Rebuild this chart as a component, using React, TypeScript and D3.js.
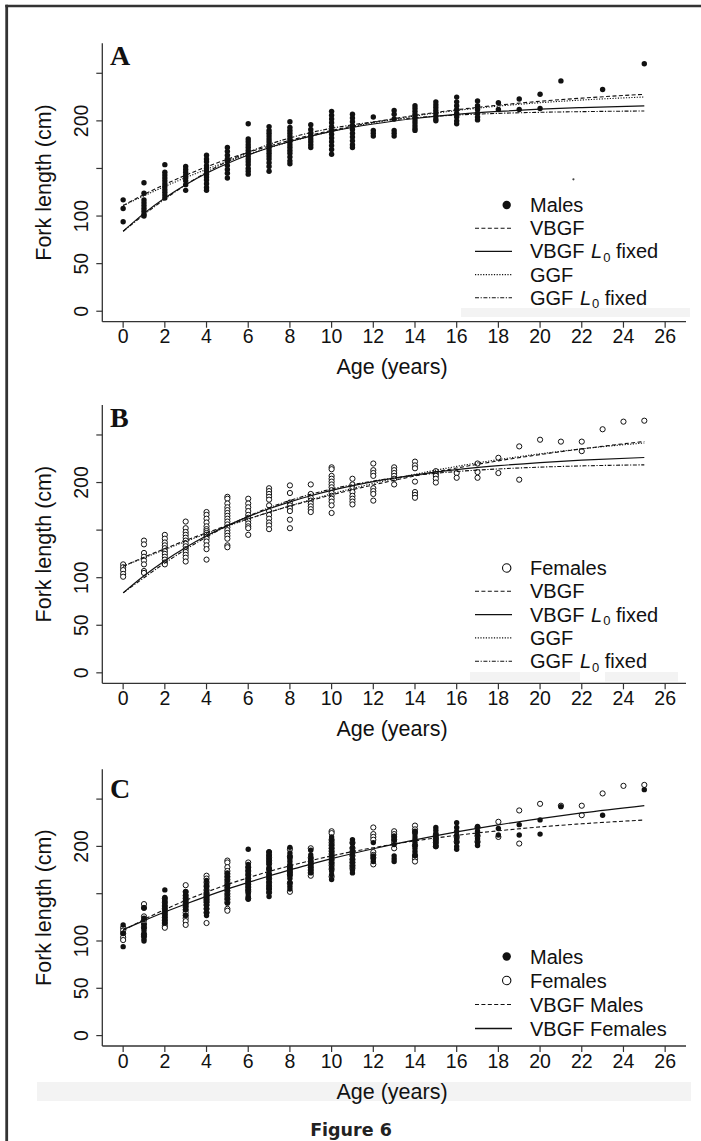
import React from 'react';
import * as d3 from 'd3';

// ---------- data ----------
const maleAges = [0, 1, 2, 3, 4, 5, 6, 7, 8, 9, 10, 11, 12, 13, 14, 15, 16, 17, 18, 19, 20, 21, 23, 25];
const maleLengths = [
  [117, 108, 94],
  [135, 124, 117, 114, 111, 108, 105, 102, 100],
  [154, 146, 143, 140, 137, 134, 131, 128, 125, 122, 119],
  [152, 149, 146, 143, 140, 137, 133, 127],
  [164, 160, 157, 153, 150, 147, 144, 141, 138, 134, 130, 127],
  [172, 168, 164, 160, 157, 153, 149, 145, 140],
  [197, 181, 178, 175, 172, 169, 166, 163, 160, 157, 154, 150, 147, 144],
  [194, 190, 187, 184, 181, 178, 175, 172, 169, 166, 163, 160, 156, 152, 147],
  [199, 193, 190, 187, 184, 181, 178, 175, 172, 169, 166, 162, 158, 155],
  [196, 191, 187, 184, 181, 178, 175, 172],
  [210, 206, 202, 198, 194, 190, 186, 182, 178, 174, 170, 165],
  [207, 203, 199, 195, 191, 187, 183, 179, 175, 172],
  [204, 190, 187, 184],
  [211, 207, 202, 190, 187, 184],
  [216, 213, 210, 207, 204, 201, 198, 195, 192, 190],
  [220, 217, 214, 211, 208, 205, 202, 200],
  [225, 220, 216, 212, 208, 204, 200, 197],
  [221, 216, 212, 208, 204, 201],
  [219, 212],
  [223, 212],
  [228, 213],
  [242],
  [233],
  [260],
];

const femaleAges = [0, 1, 2, 3, 4, 5, 6, 7, 8, 9, 10, 11, 12, 13, 14, 15, 16, 17, 18, 19, 20, 21, 22, 23, 24, 25];
const femaleLengths = [
  [114, 111, 108, 104, 101],
  [139, 135, 126, 122, 118, 114, 107, 105],
  [145, 141, 137, 134, 131, 128, 125, 122, 119, 116, 114],
  [159, 152, 148, 145, 142, 139, 136, 133, 130, 127, 124, 121, 117],
  [169, 166, 162, 158, 154, 151, 149, 147, 145, 143, 141, 138, 134, 130, 119],
  [185, 183, 178, 174, 171, 168, 165, 162, 159, 156, 153, 150, 147, 144, 141, 134, 132],
  [183, 178, 174, 170, 166, 163, 160, 157, 154, 152, 145],
  [194, 191, 188, 185, 182, 176, 170, 166, 162, 158, 155, 151],
  [197, 189, 179, 176, 173, 170, 161, 152],
  [198, 188, 184, 181, 178, 175, 172, 169],
  [216, 214, 207, 204, 201, 198, 195, 192, 189, 186, 183, 180, 176, 168],
  [204, 198, 194, 190, 186, 183, 180, 177],
  [220, 213, 210, 207, 194, 191, 188, 181],
  [216, 213, 210, 207, 204, 198],
  [222, 218, 215, 201, 190, 187, 184],
  [212, 209, 207, 204, 200],
  [210, 205],
  [220, 211, 205],
  [226, 210],
  [238, 203],
  [245],
  [243],
  [243, 233],
  [256],
  [264],
  [265],
];

// stray speck in panel A
const strayAge = [21.6];
const strayLength = [138.6];

// fitted curves
const curveAges = [0, 1, 2, 3, 4, 5, 6, 7, 8, 9, 10, 12, 14, 16, 18, 20, 22, 25];
const maleVBGF = [111, 122.7, 133.3, 142.9, 151.7, 159.7, 166.9, 173.5, 179.5, 185, 190, 198.6, 205.8, 211.7, 216.5, 220.6, 223.9, 227.9];
const maleVBGFfixed = [84, 102.8, 119, 132.9, 144.9, 155.2, 164.1, 171.8, 178.3, 184, 188.9, 196.7, 202.5, 206.8, 209.9, 212.3, 214, 215.8];
const maleGGF = [111, 121.3, 131.1, 140.4, 149.1, 157.3, 164.8, 171.7, 178, 183.8, 189, 197.9, 205.2, 210.9, 215.5, 219.1, 221.9, 225.1];
const maleGGFfixed = [84, 101.4, 117.8, 132.8, 146, 157.4, 167.1, 175.3, 182.1, 187.7, 192.2, 198.9, 203.3, 206.1, 207.9, 209, 209.7, 210.4];
const femaleVBGF = [112, 121.5, 130.6, 139.1, 147.2, 154.8, 161.9, 168.7, 175.2, 181.2, 187, 197.5, 206.9, 215.3, 222.8, 229.4, 235.4, 243.2];
const femaleVBGFfixed = [84, 102, 117.9, 131.8, 144, 154.7, 164.2, 172.4, 179.7, 186.1, 191.7, 200.9, 208, 213.5, 217.7, 221, 223.5, 226.3];
const femaleGGF = [112, 120.9, 129.6, 138.1, 146.2, 154.1, 161.6, 168.8, 175.6, 182, 188.1, 199.1, 208.7, 217, 224.1, 230.2, 235.4, 241.6];
const femaleGGFfixed = [84, 100, 115.4, 129.7, 142.8, 154.4, 164.6, 173.5, 181.2, 187.7, 193.2, 201.6, 207.5, 211.6, 214.3, 216.2, 217.5, 218.6];

const xTicks = [0, 2, 4, 6, 8, 10, 12, 14, 16, 18, 20, 22, 24, 26];
const yTicks = [0, 50, 100, 150, 200, 250];
const yTickLabels = ['0', '50', '100', '', '200', ''];

const legendA = ['Males', 'VBGF', 'VBGF |fixed', 'GGF', 'GGF |fixed'];
const legendB = ['Females', 'VBGF', 'VBGF |fixed', 'GGF', 'GGF |fixed'];
const legendC = ['Males', 'Females', 'VBGF Males', 'VBGF Females'];

// ---------- styles ----------
const DASH: Record<string, string | undefined> = {
  solid: undefined,
  dashed: '4 2.4',
  dotted: '1.2 1.5',
  dashdot: '4 1.6 1.2 1.6',
};
const INK = '#111';
const SANS = "'Liberation Sans', Arial, sans-serif";
const SERIF = "'Liberation Serif', 'Times New Roman', serif";

const W = 701;
const H = 1141;
const X0 = 102.3;
const X1 = 686;

type Series = { ages: number[]; vals: number[]; dash: string };
type Pts = { ages: number[]; lens: number[][]; open: boolean };

type Panel = {
  letter: string;
  top: number;
  axisY: number;
  letterY: number;
  legendY: number;
  legendStep: number;
  points: Pts[];
  curves: Series[];
  legend: string[];
  legendKeys: string[];
  bands: number[][];
  stray?: boolean;
};

const panels: Panel[] = [
  {
    letter: 'A', top: 43.3, axisY: 321.7, letterY: 65, legendY: 212, legendStep: 23.2,
    points: [{ ages: maleAges, lens: maleLengths, open: false }],
    curves: [
      { ages: curveAges, vals: maleVBGF, dash: 'dashed' },
      { ages: curveAges, vals: maleVBGFfixed, dash: 'solid' },
      { ages: curveAges, vals: maleGGF, dash: 'dotted' },
      { ages: curveAges, vals: maleGGFfixed, dash: 'dashdot' },
    ],
    legend: legendA,
    legendKeys: ['filled', 'dashed', 'solid', 'dotted', 'dashdot'],
    bands: [[461, 308, 229, 9]],
    stray: true,
  },
  {
    letter: 'B', top: 405, axisY: 683.3, letterY: 426.5, legendY: 575, legendStep: 23.3,
    points: [{ ages: femaleAges, lens: femaleLengths, open: true }],
    curves: [
      { ages: curveAges, vals: femaleVBGF, dash: 'dashed' },
      { ages: curveAges, vals: femaleVBGFfixed, dash: 'solid' },
      { ages: curveAges, vals: femaleGGF, dash: 'dotted' },
      { ages: curveAges, vals: femaleGGFfixed, dash: 'dashdot' },
    ],
    legend: legendB,
    legendKeys: ['open', 'dashed', 'solid', 'dotted', 'dashdot'],
    bands: [[470, 672, 110, 9.5], [605, 672, 73, 9.5]],
  },
  {
    letter: 'C', top: 769.3, axisY: 1046, letterY: 798, legendY: 963.5, legendStep: 24,
    points: [
      { ages: femaleAges, lens: femaleLengths, open: true },
      { ages: maleAges, lens: maleLengths, open: false },
    ],
    curves: [
      { ages: curveAges, vals: maleVBGF, dash: 'dashed' },
      { ages: curveAges, vals: femaleVBGF, dash: 'solid' },
    ],
    legend: legendC,
    legendKeys: ['filled', 'open', 'dashed', 'solid'],
    bands: [[37, 1082, 654, 19]],
  },
];

const xScale = d3.scaleLinear().domain([-1, 27]).range([X0, X1]);

function LegendLabel({ label, x, y }: { label: string; x: number; y: number }) {
  if (label.includes('|')) {
    const [base, rest] = label.split('|');
    return (
      <text x={x} y={y} fontFamily={SANS} fontSize={20} fill={INK}>
        {base}
        <tspan fontStyle="italic" dx={1}>L</tspan>
        <tspan fontSize={13} dy={3.5} dx={1}>0</tspan>
        <tspan dy={-3.5}>{' ' + rest}</tspan>
      </text>
    );
  }
  return (
    <text x={x} y={y} fontFamily={SANS} fontSize={20} fill={INK}>{label}</text>
  );
}

function PanelView({ p }: { p: Panel }) {
  const y = d3.scaleLinear().domain([-11, 281.5]).range([p.axisY, p.top]);
  const midY = (p.top + p.axisY) / 2;
  return (
    <g>
      {p.bands.map((b, i) => (
        <rect key={'b' + i} x={b[0]} y={b[1]} width={b[2]} height={b[3]} fill="#f3f3f3" />
      ))}
      {/* axes */}
      <line x1={X0} x2={X0} y1={p.top} y2={p.axisY} stroke="#333" strokeWidth={1.3} />
      <line x1={X0} x2={X1} y1={p.axisY} y2={p.axisY} stroke="#333" strokeWidth={1.3} />
      {yTicks.map((t, i) => (
        <g key={'yt' + t}>
          <line x1={X0 - 6} x2={X0} y1={y(t)} y2={y(t)} stroke="#333" strokeWidth={1.2} />
          {yTickLabels[i] && (
            <text
              transform={`translate(88,${y(t)}) rotate(-90)`}
              textAnchor="middle"
              fontFamily={SANS}
              fontSize={19.5}
              fill={INK}
            >
              {yTickLabels[i]}
            </text>
          )}
        </g>
      ))}
      {xTicks.map((t) => (
        <g key={'xt' + t}>
          <line x1={xScale(t)} x2={xScale(t)} y1={p.axisY} y2={p.axisY + 6} stroke="#333" strokeWidth={1.2} />
          <text x={xScale(t)} y={p.axisY + 21.6} textAnchor="middle" fontFamily={SANS} fontSize={19.5} fill={INK}>
            {t}
          </text>
        </g>
      ))}
      <text x={392} y={p.axisY + 52.5} textAnchor="middle" fontFamily={SANS} fontSize={21.5} fill={INK}>
        Age (years)
      </text>
      <text
        transform={`translate(50.5,${midY}) rotate(-90)`}
        textAnchor="middle"
        fontFamily={SANS}
        fontSize={21.5}
        fill={INK}
      >
        Fork length (cm)
      </text>
      <text x={110} y={p.letterY} fontFamily={SERIF} fontWeight="bold" fontSize={28} fill={INK}>
        {p.letter}
      </text>
      {/* points */}
      {p.points.map((s, si) => (
        <g key={'pts' + si}>
          {s.ages.map((a, ai) =>
            s.lens[ai].map((v, vi) =>
              s.open ? (
                <circle key={ai + '-' + vi} cx={xScale(a)} cy={y(v)} r={2.6} fill="#fff" stroke={INK} strokeWidth={1} />
              ) : (
                <circle key={ai + '-' + vi} cx={xScale(a)} cy={y(v)} r={2.7} fill={INK} />
              )
            )
          )}
        </g>
      ))}
      {p.stray &&
        strayAge.map((a, i) => <circle key={'s' + i} cx={xScale(a)} cy={y(strayLength[i])} r={1.1} fill="#444" />)}
      {/* curves */}
      {p.curves.map((c, ci) => {
        const gen = d3
          .line<number>()
          .x((_, i) => xScale(c.ages[i]))
          .y((v) => y(v))
          .curve(d3.curveMonotoneX);
        return (
          <path
            key={'c' + ci}
            d={gen(c.vals) || ''}
            fill="none"
            stroke={INK}
            strokeWidth={c.dash === 'solid' ? 1.2 : 1.1}
            strokeDasharray={DASH[c.dash]}
          />
        );
      })}
      {/* legend */}
      {p.legend.map((lab, i) => {
        const by = p.legendY + i * p.legendStep;
        const cy = by - 7;
        const key = p.legendKeys[i];
        return (
          <g key={'lg' + i}>
            {key === 'filled' && <circle cx={506.7} cy={cy} r={4.2} fill={INK} />}
            {key === 'open' && <circle cx={506.7} cy={cy} r={4.2} fill="#fff" stroke={INK} strokeWidth={1.1} />}
            {key !== 'filled' && key !== 'open' && (
              <line x1={475} x2={512} y1={cy} y2={cy} stroke={INK} strokeWidth={key === 'solid' ? 1.3 : 1.1} strokeDasharray={DASH[key]} />
            )}
            <LegendLabel label={lab} x={530} y={by} />
          </g>
        );
      })}
    </g>
  );
}

export default function App() {
  return (
    <svg
      width={W}
      height={H}
      viewBox={`0 0 ${W} ${H}`}
      style={{ position: 'absolute', left: 0, top: 0, display: 'block', background: '#fff' }}
    >
      <rect x={0} y={0} width={W} height={H} fill="#fff" />
      <line x1={6.7} x2={6.7} y1={4.8} y2={H} stroke="#333" strokeWidth={2.8} />
      <line x1={5.3} x2={W} y1={6} y2={6} stroke="#333" strokeWidth={2.5} />
      {panels.map((p) => (
        <PanelView key={p.letter} p={p} />
      ))}
      <text x={351} y={1136} textAnchor="middle" fontFamily="'DejaVu Sans', Verdana, sans-serif" fontWeight="bold" fontSize={17.5} fill="#222">
        Figure 6
      </text>
    </svg>
  );
}
